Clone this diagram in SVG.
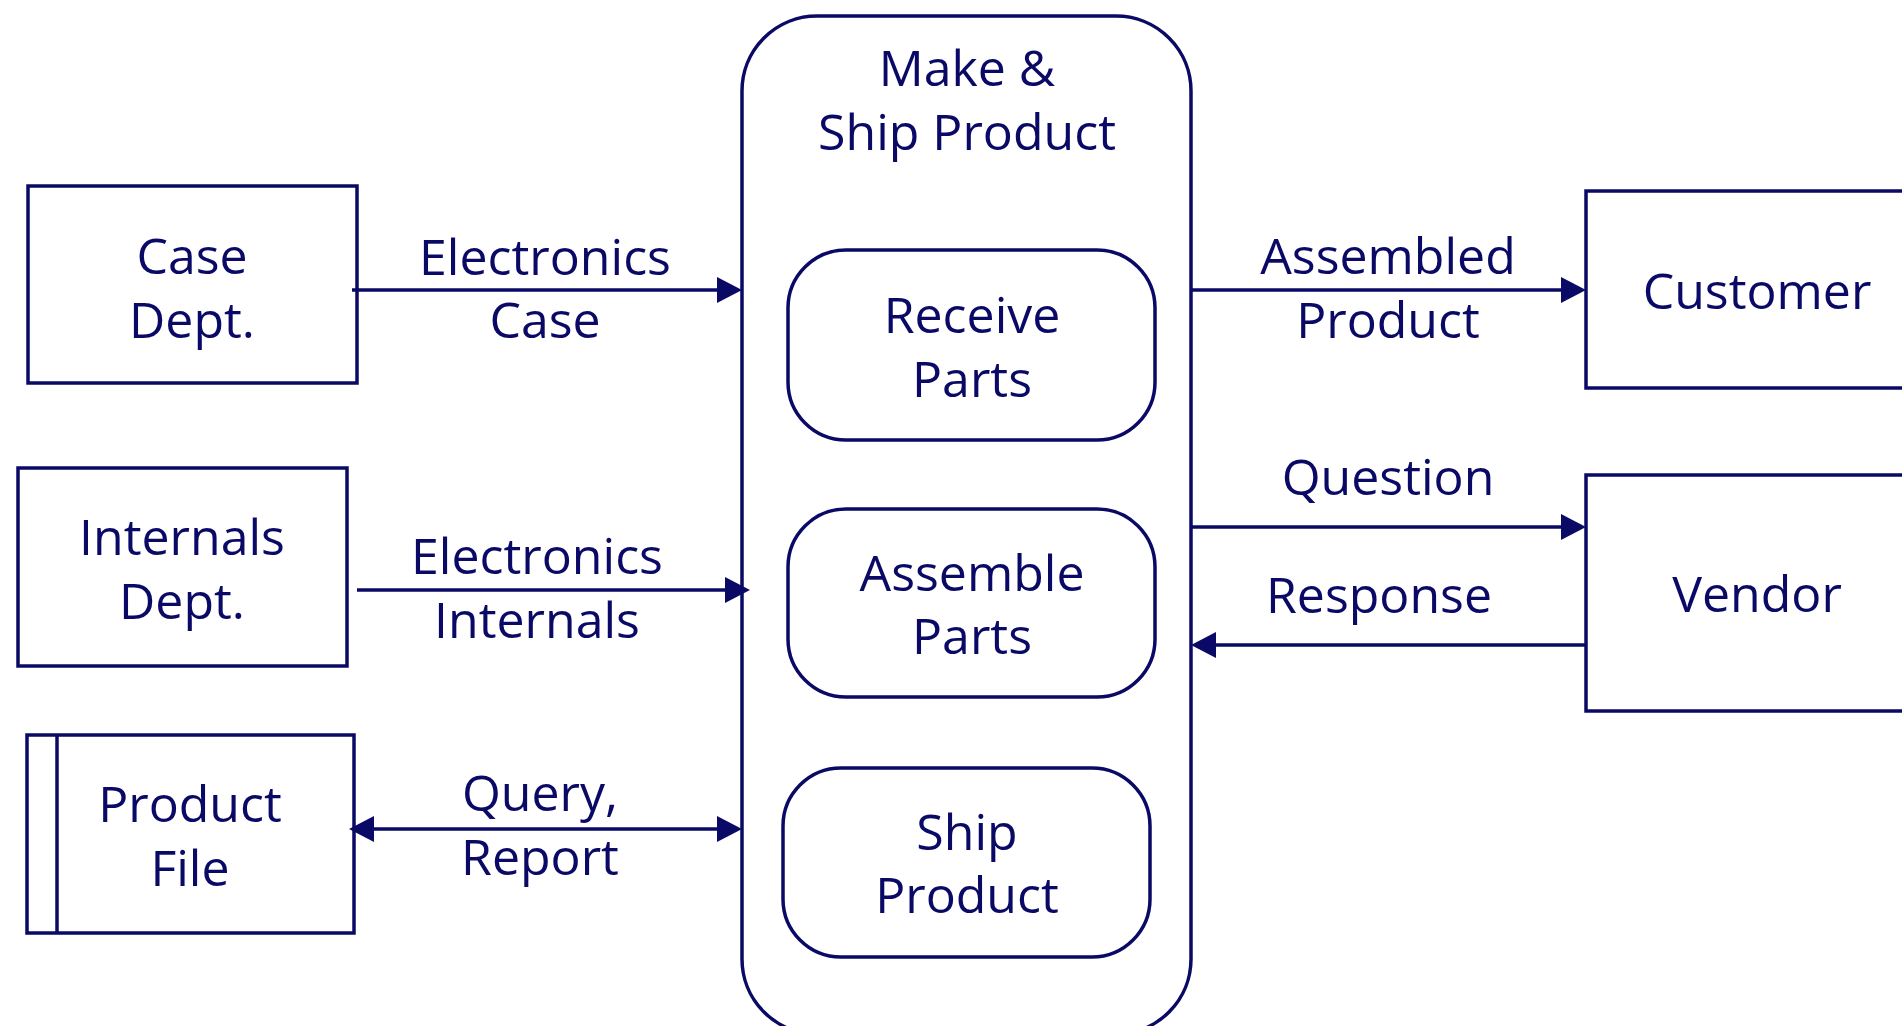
<svg xmlns="http://www.w3.org/2000/svg" width="1902" height="1026" viewBox="0 0 1902 1026">
<style>
.box{fill:#ffffff;stroke:#0a0a66;stroke-width:3.5}
.rbox{fill:#ffffff;stroke:#0a0a66;stroke-width:3.5}
.ln{fill:none;stroke:#0a0a66;stroke-width:3.5}
text{font-family:"Open Sans","Noto Sans","DejaVu Sans",sans-serif;font-size:50px;fill:#0a0a66;text-anchor:middle}
</style>
<defs>
<marker id="arr" markerUnits="userSpaceOnUse" markerWidth="26" markerHeight="26" refX="20" refY="13" orient="auto-start-reverse" viewBox="0 0 26 26">
<path d="M0,0 L25,13 L0,26 z" fill="#0a0a66"/>
</marker>
</defs>
<rect width="1902" height="1026" fill="#ffffff"/>
<g id="make-ship-product">
<rect class="rbox" x="742" y="16" width="449" height="1018" rx="75" ry="75"/>
<text x="967" y="86">Make &amp;</text>
<text x="967" y="150">Ship Product</text>
</g>
<g id="receive-parts">
<rect class="rbox" x="788" y="250" width="367" height="190" rx="58" ry="58"/>
<text x="972" y="333">Receive</text>
<text x="972" y="397">Parts</text>
</g>
<g id="assemble-parts">
<rect class="rbox" x="788" y="509" width="367" height="188" rx="58" ry="58"/>
<text x="972" y="591">Assemble</text>
<text x="972" y="654">Parts</text>
</g>
<g id="ship-product">
<rect class="rbox" x="783" y="768" width="367" height="189" rx="58" ry="58"/>
<text x="967" y="850">Ship</text>
<text x="967" y="913">Product</text>
</g>
<g id="case-dept">
<rect class="box" x="28" y="186" width="329" height="197"/>
<text x="192" y="274">Case</text>
<text x="192" y="338">Dept.</text>
</g>
<g id="internals-dept">
<rect class="box" x="18" y="468" width="329" height="198"/>
<text x="182" y="555">Internals</text>
<text x="182" y="619">Dept.</text>
</g>
<g id="product-file">
<rect class="box" x="27" y="735" width="327" height="198"/>
<line class="ln" x1="57" y1="735" x2="57" y2="933"/>
<text x="190" y="822">Product</text>
<text x="190" y="886">File</text>
</g>
<g id="customer">
<rect class="box" x="1586" y="191" width="340" height="197"/>
<text x="1757" y="309">Customer</text>
</g>
<g id="vendor">
<rect class="box" x="1586" y="475" width="340" height="236"/>
<text x="1757" y="612">Vendor</text>
</g>
<g id="connectors">
<path class="ln" d="M352,290 H737" marker-end="url(#arr)"/>
<text x="545" y="275">Electronics</text>
<text x="545" y="338">Case</text>
<path class="ln" d="M357,590 H745" marker-end="url(#arr)"/>
<text x="537" y="574">Electronics</text>
<text x="537" y="638">Internals</text>
<path class="ln" d="M354,829 H737" marker-start="url(#arr)" marker-end="url(#arr)"/>
<text x="540" y="811">Query,</text>
<text x="540" y="875">Report</text>
<path class="ln" d="M1191,290 H1581" marker-end="url(#arr)"/>
<text x="1388" y="274">Assembled</text>
<text x="1388" y="338">Product</text>
<path class="ln" d="M1191,527 H1581" marker-end="url(#arr)"/>
<text x="1388" y="495">Question</text>
<path class="ln" d="M1586,645 H1196" marker-end="url(#arr)"/>
<text x="1379" y="613">Response</text>
</g>
</svg>
